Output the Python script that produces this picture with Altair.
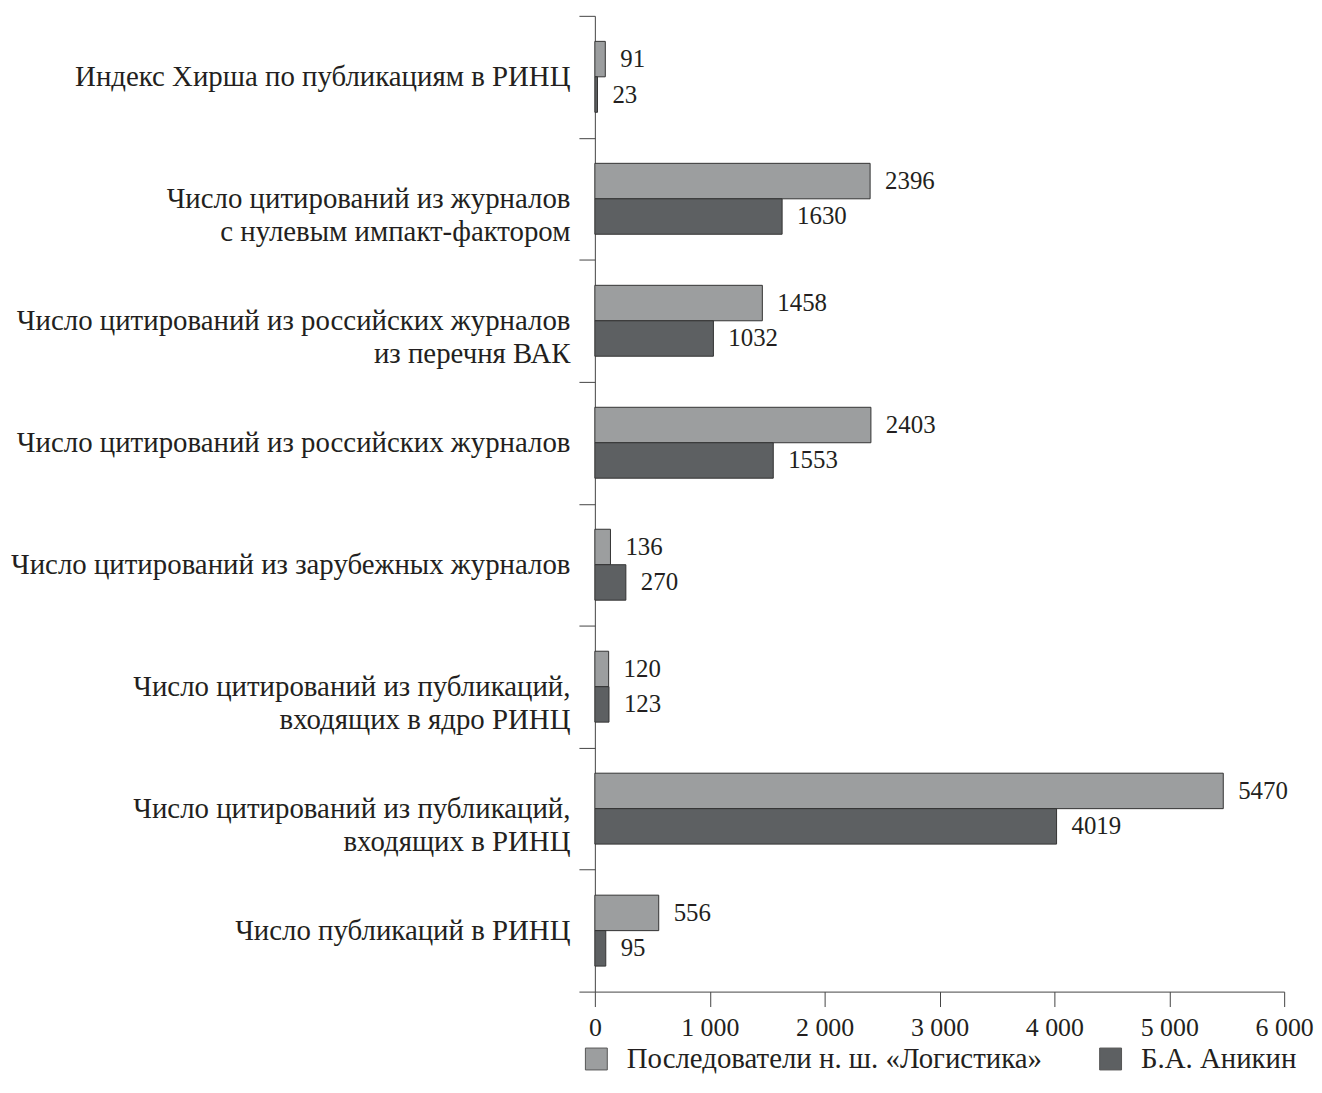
import altair as alt
import pandas as pd

categories = [
    "Индекс Хирша по публикациям в РИНЦ",
    "Число цитирований из журналов|с нулевым импакт-фактором",
    "Число цитирований из российских журналов|из перечня ВАК",
    "Число цитирований из российских журналов",
    "Число цитирований из зарубежных журналов",
    "Число цитирований из публикаций,|входящих в ядро РИНЦ",
    "Число цитирований из публикаций,|входящих в РИНЦ",
    "Число  публикаций в РИНЦ",
]
series = ["Последователи н. ш. «Логистика»", "Б.А. Аникин"]
followers = [91, 2396, 1458, 2403, 136, 120, 5470, 556]
anikin = [23, 1630, 1032, 1553, 270, 123, 4019, 95]
colors = ["#9c9e9f", "#5d6062"]

rows = []
for c, a, b in zip(categories, followers, anikin):
    rows.append({"cat": c, "series": series[0], "value": a})
    rows.append({"cat": c, "series": series[1], "value": b})
df = pd.DataFrame(rows)

FONT = "Liberation Serif"
INK = "#231f20"
AX = "#444444"

y_enc = alt.Y(
    "cat:N", sort=categories, title=None,
    scale=alt.Scale(paddingInner=0, paddingOuter=0),
    axis=alt.Axis(
        tickBand="extent", tickSize=16, labelPadding=9,
        labelExpr="split(datum.label, '|')", labelLineHeight=33,
        labelFontSize=29, labelFont=FONT, labelColor=INK,
        domainColor=AX, tickColor=AX, labelLimit=800,
    ),
)
yoff = alt.YOffset("series:N", sort=series,
                   scale=alt.Scale(paddingInner=0, paddingOuter=0.72))
x_enc = alt.X(
    "value:Q", title=None,
    scale=alt.Scale(domain=[0, 6000], nice=False),
    axis=alt.Axis(
        values=[0, 1000, 2000, 3000, 4000, 5000, 6000], grid=False,
        tickSize=15, labelPadding=8, labelFontSize=26, labelFont=FONT,
        labelColor=INK, domainColor=AX, tickColor=AX, labelFlush=False,
        labelOverlap=False,
        labelExpr="replace(format(datum.value, ','), ',', ' ')",
    ),
)

bars = alt.Chart(df).mark_bar(stroke="#333333", strokeWidth=1).encode(
    y=y_enc, yOffset=yoff, x=x_enc,
    color=alt.Color(
        "series:N", sort=series,
        scale=alt.Scale(domain=series, range=colors),
        legend=alt.Legend(
            title=None, orient="none", legendX=-13, legendY=1034,
            direction="horizontal", symbolType="square", symbolSize=484,
            symbolStrokeColor="#555", symbolStrokeWidth=1,
            labelFontSize=29, labelFont=FONT, labelColor=INK,
            labelOffset=16, columnPadding=54, labelLimit=700,
        ),
    ),
)

text = alt.Chart(df).mark_text(
    align="left", baseline="middle", dx=15, fontSize=25, font=FONT, color=INK
).encode(
    y=alt.Y("cat:N", sort=categories), yOffset=yoff, x="value:Q",
    text="value:Q",
)

chart = (bars + text).properties(
    width=693, height=981,
    autosize=alt.AutoSizeParams(type="none"),
    padding={"left": 590, "top": 5, "right": 30, "bottom": 90},
).configure_view(stroke=None)

chart.save("out.html", embed_options={"renderer": "svg", "actions": False})
